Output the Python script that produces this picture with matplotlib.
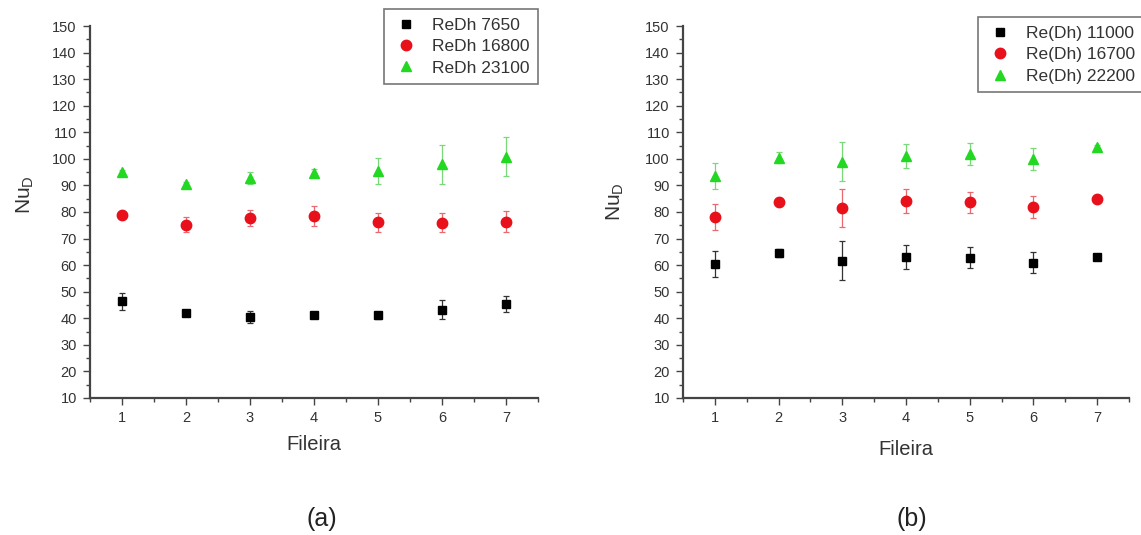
"""Nusselt number per row (Fileira) for three Reynolds numbers, two cases."""

from matplotlib import pyplot
from matplotlib.ticker import MultipleLocator

fileira = [1, 2, 3, 4, 5, 6, 7]

# Case (a)
labels_a = ['ReDh 7650', 'ReDh 16800', 'ReDh 23100']
nu_a_7650 = [46.4, 41.9, 40.4, 41.2, 41.2, 43.3, 45.3]
err_a_7650 = [3.2, 0.8, 2.3, 0.8, 1.3, 3.7, 3.1]
nu_a_16800 = [78.7, 75.2, 77.9, 78.5, 76.1, 75.9, 76.3]
err_a_16800 = [1.0, 2.9, 3.0, 3.7, 3.6, 3.6, 4.0]
nu_a_23100 = [95.0, 90.5, 92.8, 94.8, 95.4, 98.0, 100.8]
err_a_23100 = [0.8, 0.8, 2.2, 1.5, 5.0, 7.4, 7.3]

# Case (b)
labels_b = ['Re(Dh) 11000', 'Re(Dh) 16700', 'Re(Dh) 22200']
nu_b_11000 = [60.5, 64.6, 61.6, 63.2, 62.8, 60.9, 63.2]
err_b_11000 = [5.0, 1.5, 7.3, 4.5, 4.0, 4.0, 1.0]
nu_b_16700 = [78.2, 83.9, 81.5, 84.0, 83.7, 81.9, 84.8]
err_b_16700 = [4.8, 1.5, 7.3, 4.5, 4.0, 4.1, 1.0]
nu_b_22200 = [93.5, 100.4, 99.0, 101.2, 101.7, 99.9, 104.3]
err_b_22200 = [4.8, 2.0, 7.4, 4.5, 4.1, 4.2, 1.0]

styles = [dict(marker='s', color='black', ecolor='#333333', ms=6),
          dict(marker='o', color='#e8101a', ecolor='#e86a70', ms=7.5),
          dict(marker='^', color='#22d822', ecolor='#7ad87a', ms=7.5)]

pyplot.rc('font', family='Liberation Sans', size=10)

fig = pyplot.figure(figsize=(11.41, 5.35), dpi=100)
ax_a = fig.add_axes([0.0789, 0.2561, 0.3926, 0.6953])
ax_b = fig.add_axes([0.5986, 0.2561, 0.3909, 0.6953])

# axes, legend labels, series, legend anchor/loc, label pads, ylabel height
panels = [
    (ax_a, labels_a, [(nu_a_7650, err_a_7650), (nu_a_16800, err_a_16800),
                      (nu_a_23100, err_a_23100)],
     (1.0, 1.046), 'upper right', 7, 11.5, 0.546),
    (ax_b, labels_b, [(nu_b_11000, err_b_11000), (nu_b_16700, err_b_16700),
                      (nu_b_22200, err_b_22200)],
     (0.661, 1.024), 'upper left', 11, 13.5, 0.527),
]

for ax, labels, series, anchor, loc, xpad, ypad, ylab_y in panels:
    handles = []
    for label, (vals, errs), st in zip(labels, series, styles):
        cont = ax.errorbar(fileira, vals, yerr=errs, fmt=st['marker'],
                           color=st['color'], ecolor=st['ecolor'],
                           ms=st['ms'], mec=st['color'], elinewidth=0.9,
                           capsize=2.5, capthick=0.9, label=label)
        handles.append(cont[0])  # marker only in the legend
    ax.set_xlim(0.5, 7.5)
    ax.set_ylim(10, 150)
    ax.xaxis.set_major_locator(MultipleLocator(1))
    ax.xaxis.set_minor_locator(MultipleLocator(0.5))
    ax.yaxis.set_major_locator(MultipleLocator(10))
    ax.yaxis.set_minor_locator(MultipleLocator(5))
    ax.tick_params(which='major', direction='out', length=5, width=1,
                   color='#444444', labelsize=10.5, labelcolor='#333333',
                   pad=4.5)
    ax.tick_params(which='minor', direction='out', length=3, width=1,
                   color='#444444')
    for side in ('top', 'right'):
        ax.spines[side].set_visible(False)
    for side in ('left', 'bottom'):
        ax.spines[side].set_linewidth(1.6)
        ax.spines[side].set_color('#444444')
    ax.set_xlabel('Fileira', fontsize=14.5, color='#333333', labelpad=xpad)
    ax.set_ylabel('Nu$_\\mathregular{D}$', fontsize=15, color='#333333',
                  labelpad=ypad)
    ax.yaxis.label.set_y(ylab_y)
    leg = ax.legend(handles, labels, loc=loc, bbox_to_anchor=anchor,
                    borderaxespad=0, fancybox=False, fontsize=12.5,
                    handletextpad=0.75, borderpad=0.5, labelspacing=0.36,
                    handlelength=1.5)
    leg.get_frame().set_edgecolor('#555555')
    leg.get_frame().set_linewidth(1.2)
    for txt in leg.get_texts():
        txt.set_color('#333333')

fig.text(322 / 1141, 1 - 519 / 535, '(a)', fontsize=18, ha='center',
         va='center', color='#222222')
fig.text(912 / 1141, 1 - 519 / 535, '(b)', fontsize=18, ha='center',
         va='center', color='#222222')

fig.savefig('out.png', dpi=100)
